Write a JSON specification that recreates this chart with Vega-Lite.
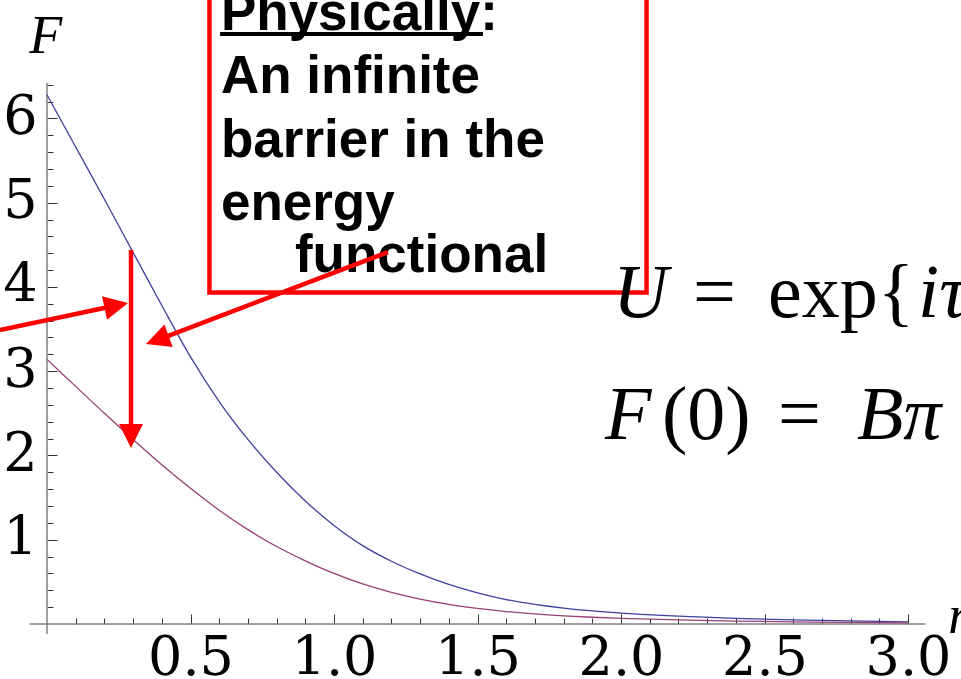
{
  "$schema": "https://vega.github.io/schema/vega-lite/v6.json",
  "autosize": {"type": "none"},
  "padding": {"left": 47, "top": 83, "right": 53, "bottom": 55},
  "width": 861,
  "height": 541,
  "background": "white",
  "config": {"view": {"stroke": null}},
  "resolve": {"axis": {"x": "independent", "y": "independent"}},
  "datasets": {
    "profiles": [
      {"r": 0.0, "F": 6.28, "B": "B=2"},
      {"r": 0.1, "F": 5.66, "B": "B=2"},
      {"r": 0.2, "F": 5.04, "B": "B=2"},
      {"r": 0.3, "F": 4.41, "B": "B=2"},
      {"r": 0.4, "F": 3.78, "B": "B=2"},
      {"r": 0.5, "F": 3.17, "B": "B=2"},
      {"r": 0.6, "F": 2.64, "B": "B=2"},
      {"r": 0.7, "F": 2.19, "B": "B=2"},
      {"r": 0.8, "F": 1.80, "B": "B=2"},
      {"r": 0.9, "F": 1.46, "B": "B=2"},
      {"r": 1.0, "F": 1.17, "B": "B=2"},
      {"r": 1.1, "F": 0.93, "B": "B=2"},
      {"r": 1.2, "F": 0.745, "B": "B=2"},
      {"r": 1.3, "F": 0.595, "B": "B=2"},
      {"r": 1.4, "F": 0.47, "B": "B=2"},
      {"r": 1.5, "F": 0.37, "B": "B=2"},
      {"r": 1.6, "F": 0.29, "B": "B=2"},
      {"r": 1.7, "F": 0.232, "B": "B=2"},
      {"r": 1.8, "F": 0.188, "B": "B=2"},
      {"r": 1.9, "F": 0.155, "B": "B=2"},
      {"r": 2.0, "F": 0.13, "B": "B=2"},
      {"r": 2.2, "F": 0.093, "B": "B=2"},
      {"r": 2.4, "F": 0.067, "B": "B=2"},
      {"r": 2.6, "F": 0.049, "B": "B=2"},
      {"r": 2.8, "F": 0.036, "B": "B=2"},
      {"r": 3.0, "F": 0.026, "B": "B=2"},
      {"r": 0.0, "F": 3.14, "B": "B=1"},
      {"r": 0.1, "F": 2.82, "B": "B=1"},
      {"r": 0.2, "F": 2.50, "B": "B=1"},
      {"r": 0.3, "F": 2.19, "B": "B=1"},
      {"r": 0.4, "F": 1.89, "B": "B=1"},
      {"r": 0.5, "F": 1.61, "B": "B=1"},
      {"r": 0.6, "F": 1.35, "B": "B=1"},
      {"r": 0.7, "F": 1.12, "B": "B=1"},
      {"r": 0.8, "F": 0.92, "B": "B=1"},
      {"r": 0.9, "F": 0.75, "B": "B=1"},
      {"r": 1.0, "F": 0.60, "B": "B=1"},
      {"r": 1.1, "F": 0.475, "B": "B=1"},
      {"r": 1.2, "F": 0.375, "B": "B=1"},
      {"r": 1.3, "F": 0.295, "B": "B=1"},
      {"r": 1.4, "F": 0.232, "B": "B=1"},
      {"r": 1.5, "F": 0.185, "B": "B=1"},
      {"r": 1.6, "F": 0.148, "B": "B=1"},
      {"r": 1.7, "F": 0.119, "B": "B=1"},
      {"r": 1.8, "F": 0.097, "B": "B=1"},
      {"r": 1.9, "F": 0.080, "B": "B=1"},
      {"r": 2.0, "F": 0.067, "B": "B=1"},
      {"r": 2.2, "F": 0.048, "B": "B=1"},
      {"r": 2.4, "F": 0.035, "B": "B=1"},
      {"r": 2.6, "F": 0.026, "B": "B=1"},
      {"r": 2.8, "F": 0.019, "B": "B=1"},
      {"r": 3.0, "F": 0.014, "B": "B=1"}
    ],
    "shafts": [
      {"r": -0.164, "F": 3.489, "r2": 0.207, "F2": 3.756},
      {"r": 0.2927, "F": 4.438, "r2": 0.2927, "F2": 2.361},
      {"r": 1.188, "F": 4.414, "r2": 0.4226, "F2": 3.42}
    ],
    "heads": [
      {"r": 0.2822, "F": 3.809, "angle": 78},
      {"r": 0.2927, "F": 2.089, "angle": 180},
      {"r": 0.345, "F": 3.323, "angle": 250}
    ],
    "note": [
      {"r": 0.606, "F": 7.05, "t": "Physically:"},
      {"r": 0.606, "F": 6.30, "t": "An infinite"},
      {"r": 0.606, "F": 5.54, "t": "barrier in the"},
      {"r": 0.606, "F": 4.79, "t": "energy"},
      {"r": 0.864, "F": 4.18, "t": "functional"}
    ],
    "mathItalic": [
      {"r": 1.972, "F": 3.643, "t": "U"},
      {"r": 3.035, "F": 3.643, "t": "iτ"},
      {"r": 1.944, "F": 2.195, "t": "F"},
      {"r": 2.822, "F": 2.195, "t": "Bπ"}
    ],
    "mathRoman": [
      {"r": 2.251, "F": 3.643, "t": "="},
      {"r": 2.512, "F": 3.643, "t": "exp{"},
      {"r": 2.143, "F": 2.195, "t": "(0)"},
      {"r": 2.547, "F": 2.195, "t": "="}
    ],
    "axisNames": [
      {"r": -0.062, "F": 6.776, "t": "F"},
      {"r": 3.139, "F": -0.107, "t": "r"}
    ]
  },
  "layer": [
    {
      "data": {"values": [{"r": -0.06, "r2": 3.06, "F": 0}]},
      "mark": {"type": "rule", "color": "#808080", "strokeWidth": 1.5},
      "encoding": {
        "x": {
          "field": "r", "type": "quantitative",
          "scale": {"domain": [0, 3], "nice": false, "zero": false},
          "axis": {
            "orient": "top", "offset": -541, "title": null,
            "values": [0.1, 0.2, 0.3, 0.4, 0.6, 0.7, 0.8, 0.9, 1.1, 1.2, 1.3, 1.4, 1.6, 1.7, 1.8, 1.9, 2.1, 2.2, 2.3, 2.4, 2.6, 2.7, 2.8, 2.9],
            "labels": false, "domain": false, "grid": false,
            "ticks": true, "tickSize": 6, "tickColor": "#333333", "tickWidth": 1
          }
        },
        "x2": {"field": "r2"},
        "y": {
          "field": "F", "type": "quantitative",
          "scale": {"domain": [0, 6.42], "nice": false, "zero": false},
          "axis": {
            "orient": "right", "offset": -861, "title": null,
            "values": [0.2, 0.4, 0.6, 0.8, 1.2, 1.4, 1.6, 1.8, 2.2, 2.4, 2.6, 2.8, 3.2, 3.4, 3.6, 3.8, 4.2, 4.4, 4.6, 4.8, 5.2, 5.4, 5.6, 5.8, 6.2, 6.4],
            "labels": false, "domain": false, "grid": false,
            "ticks": true, "tickSize": 6, "tickColor": "#333333", "tickWidth": 1
          }
        }
      }
    },
    {
      "data": {"values": [{"r": 0, "F": -0.12, "F2": 6.42}]},
      "mark": {"type": "rule", "color": "#808080", "strokeWidth": 1.5},
      "encoding": {
        "x": {
          "field": "r", "type": "quantitative",
          "scale": {"domain": [0, 3], "nice": false, "zero": false},
          "axis": {
            "orient": "top", "offset": -541, "title": null,
            "values": [0.5, 1, 1.5, 2, 2.5, 3],
            "labels": false, "domain": false, "grid": false,
            "ticks": true, "tickSize": 10, "tickColor": "#333333", "tickWidth": 1
          }
        },
        "y": {
          "field": "F", "type": "quantitative",
          "scale": {"domain": [0, 6.42], "nice": false, "zero": false},
          "axis": {
            "orient": "right", "offset": -861, "title": null,
            "values": [1, 2, 3, 4, 5, 6],
            "labels": false, "domain": false, "grid": false,
            "ticks": true, "tickSize": 10, "tickColor": "#333333", "tickWidth": 1
          }
        },
        "y2": {"field": "F2"}
      }
    },
    {
      "data": {"name": "profiles"},
      "mark": {"type": "line", "strokeWidth": 1.3, "interpolate": "monotone"},
      "encoding": {
        "x": {
          "field": "r", "type": "quantitative",
          "scale": {"domain": [0, 3], "nice": false, "zero": false},
          "axis": {
            "orient": "bottom", "title": null,
            "values": [0.5, 1, 1.5, 2, 2.5, 3], "format": ".1f",
            "domain": false, "grid": false, "ticks": false, "tickSize": 0,
            "labelFont": "DejaVu Serif", "labelFontSize": 54, "labelColor": "#000000",
            "labelPadding": 50, "labelBaseline": "alphabetic", "labelAlign": "center",
            "labelFlush": false, "labelOverlap": false
          }
        },
        "y": {
          "field": "F", "type": "quantitative",
          "scale": {"domain": [0, 6.42], "nice": false, "zero": false},
          "axis": {
            "orient": "left", "title": null,
            "values": [1, 2, 3, 4, 5, 6], "format": "d",
            "domain": false, "grid": false, "ticks": false, "tickSize": 0,
            "labelFont": "DejaVu Serif", "labelFontSize": 54, "labelColor": "#000000",
            "labelPadding": 10, "labelBaseline": "alphabetic", "labelAlign": "right",
            "labelOffset": 15, "labelFlush": false, "labelOverlap": false
          }
        },
        "color": {
          "field": "B", "type": "nominal", "legend": null,
          "scale": {"domain": ["B=2", "B=1"], "range": ["#3f3f9f", "#993f73"]}
        }
      }
    },
    {
      "data": {"values": [{"r": 0.566, "r2": 2.089, "F": 3.934, "F2": 7.6}]},
      "mark": {"type": "rect", "filled": false, "stroke": "#ff0000", "strokeWidth": 4.5},
      "encoding": {
        "x": {"field": "r", "type": "quantitative", "axis": null},
        "x2": {"field": "r2"},
        "y": {"field": "F", "type": "quantitative", "axis": null},
        "y2": {"field": "F2"}
      }
    },
    {
      "data": {"name": "note"},
      "mark": {"type": "text", "font": "Liberation Sans", "fontWeight": "bold", "fontSize": 53, "align": "left", "baseline": "alphabetic", "color": "#000000"},
      "encoding": {
        "x": {"field": "r", "type": "quantitative", "axis": null},
        "y": {"field": "F", "type": "quantitative", "axis": null},
        "text": {"field": "t"}
      }
    },
    {
      "data": {"values": [{"r": 0.603, "r2": 1.519, "F": 7.0}]},
      "mark": {"type": "rule", "color": "#000000", "strokeWidth": 4},
      "encoding": {
        "x": {"field": "r", "type": "quantitative", "axis": null},
        "x2": {"field": "r2"},
        "y": {"field": "F", "type": "quantitative", "axis": null}
      }
    },
    {
      "data": {"name": "shafts"},
      "mark": {"type": "rule", "color": "#ff0000", "strokeWidth": 4.5},
      "encoding": {
        "x": {"field": "r", "type": "quantitative", "axis": null},
        "x2": {"field": "r2"},
        "y": {"field": "F", "type": "quantitative", "axis": null},
        "y2": {"field": "F2"}
      }
    },
    {
      "data": {"name": "heads"},
      "mark": {"type": "point", "shape": "M0,0L-1.2,2.4L1.2,2.4Z", "filled": true, "color": "#ff0000", "opacity": 1, "size": 400, "strokeWidth": 0},
      "encoding": {
        "x": {"field": "r", "type": "quantitative", "axis": null},
        "y": {"field": "F", "type": "quantitative", "axis": null},
        "angle": {"field": "angle", "type": "quantitative", "scale": null}
      }
    },
    {
      "data": {"name": "mathItalic"},
      "mark": {"type": "text", "font": "Liberation Serif", "fontStyle": "italic", "fontSize": 76, "align": "left", "baseline": "alphabetic", "color": "#000000"},
      "encoding": {
        "x": {"field": "r", "type": "quantitative", "axis": null},
        "y": {"field": "F", "type": "quantitative", "axis": null},
        "text": {"field": "t"}
      }
    },
    {
      "data": {"name": "mathRoman"},
      "mark": {"type": "text", "font": "Liberation Serif", "fontSize": 76, "align": "left", "baseline": "alphabetic", "color": "#000000"},
      "encoding": {
        "x": {"field": "r", "type": "quantitative", "axis": null},
        "y": {"field": "F", "type": "quantitative", "axis": null},
        "text": {"field": "t"}
      }
    },
    {
      "data": {"name": "axisNames"},
      "mark": {"type": "text", "font": "Liberation Serif", "fontStyle": "italic", "fontSize": 54, "align": "left", "baseline": "alphabetic", "color": "#000000"},
      "encoding": {
        "x": {"field": "r", "type": "quantitative", "axis": null},
        "y": {"field": "F", "type": "quantitative", "axis": null},
        "text": {"field": "t"}
      }
    }
  ]
}
